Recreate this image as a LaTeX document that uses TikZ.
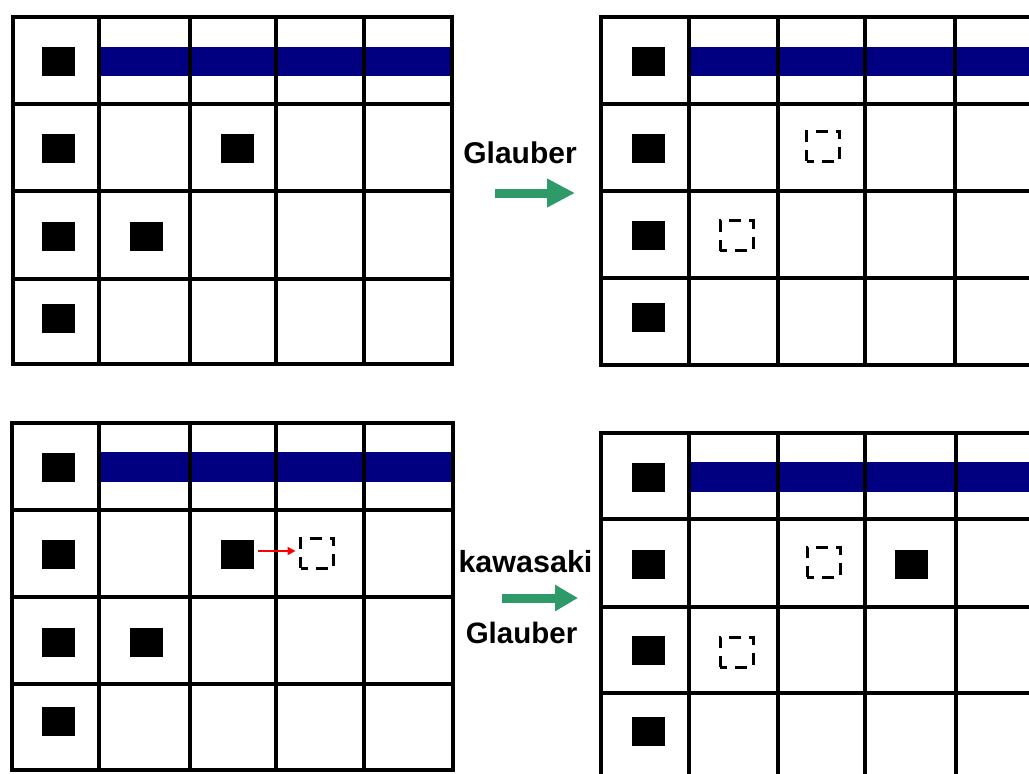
\documentclass[tikz,border=0pt]{standalone}
\usepackage{fontspec}
\setmainfont{Liberation Sans}
\usetikzlibrary{arrows.meta}
\definecolor{barblue}{RGB}{0,0,128}
\definecolor{arrgreen}{RGB}{46,154,106}
\begin{document}
\begin{tikzpicture}[x=1pt,y=-1pt,
  gridline/.style={line width=3.8pt,black},
  blk/.style={fill=black,inner sep=0pt,minimum width=33pt,minimum height=29pt},
  hole/.style={draw=black,line width=3pt,dash pattern=on 12pt off 8pt,dash phase=5pt,inner sep=0pt,minimum width=33pt,minimum height=30pt},
  bar/.style={fill=barblue},
  lbl/.style={font=\bfseries\fontsize{30}{30}\selectfont,inner sep=0pt,anchor=base},
  flow/.style={draw=arrgreen,line width=9pt,-{Triangle[length=28pt,width=27pt]}},
  move/.style={draw=red,line width=1.5pt,-{Triangle[length=8pt,width=8pt]}}]
\useasboundingbox (0,0) rectangle (1029,774);
\clip (0,0) rectangle (1029,774);

% ---------- top-left lattice ----------
\fill[bar] (99,47) rectangle (452,76);
\draw[gridline] (13,17) rectangle (452,364);
\foreach \x in {99,190,276,364} \draw[gridline] (\x,17) -- (\x,364);
\foreach \y in {104,191,279} \draw[gridline] (13,\y) -- (452,\y);
\node[blk] (a00) at (58.5,61.5) {};
\node[blk] (a10) at (58.5,148) {};
\node[blk] (a20) at (58.5,236) {};
\node[blk] (a30) at (58.5,318) {};
\node[blk] (a21) at (146,236) {};
\node[blk] (a12) at (237,148) {};

% ---------- top-right lattice ----------
\fill[bar] (689,47) rectangle (1035,76);
\draw[gridline] (1040,17) -- (601,17) -- (601,365) -- (1040,365);
\foreach \x in {689,778,865,955} \draw[gridline] (\x,17) -- (\x,365);
\foreach \y in {104,191,278} \draw[gridline] (601,\y) -- (1040,\y);
\node[blk] (b00) at (648,61.5) {};
\node[blk] (b10) at (648,148) {};
\node[blk] (b20) at (648,235) {};
\node[blk] (b30) at (648,317) {};
\node[hole] (b12) at (823,146) {};
\node[hole] (b21) at (736.5,235.5) {};

% ---------- bottom-left lattice ----------
\fill[bar] (99,452) rectangle (453,482);
\draw[gridline] (12,423) rectangle (453,770);
\foreach \x in {99,190,276,364} \draw[gridline] (\x,423) -- (\x,770);
\foreach \y in {510,597,684} \draw[gridline] (12,\y) -- (453,\y);
\node[blk] (c00) at (58.5,467) {};
\node[blk] (c10) at (58.5,554.5) {};
\node[blk] (c20) at (58.5,642) {};
\node[blk] (c30) at (58.5,721.5) {};
\node[blk] (c21) at (146,642) {};
\node[blk] (c12) at (237,554.5) {};
\node[hole] (c13) at (317,553) {};
\draw[move] ([yshift=3.5pt,xshift=4.5pt]c12.east) -- ([yshift=2pt,xshift=-3.5pt]c13.west);

% ---------- bottom-right lattice ----------
\fill[bar] (689,462) rectangle (1035,492);
\draw[gridline] (1040,433) -- (601,433) -- (601,780);
\foreach \x in {689,778,865,956} \draw[gridline] (\x,433) -- (\x,780);
\foreach \y in {519,607,693} \draw[gridline] (601,\y) -- (1040,\y);
\node[blk] (d00) at (648,477) {};
\node[blk] (d10) at (648,564) {};
\node[blk] (d20) at (648,650.5) {};
\node[blk] (d30) at (648,731.5) {};
\node[blk] (d13) at (911,564) {};
\node[hole] (d12) at (823.5,562) {};
\node[hole] (d21) at (736.5,652) {};

% ---------- labels and arrows ----------
\node[lbl] (t1) at (520,163) {Glauber};
\coordinate (g1s) at (495,193);
\coordinate (g1e) at (575,193);
\draw[flow] (g1s) -- (g1e);

\node[lbl,font=\bfseries\fontsize{30.5}{30.5}\selectfont] (t2) at (525.5,572) {kawasaki};
\coordinate (g2s) at (502,598);
\coordinate (g2e) at (578,598);
\draw[flow,-{Triangle[length=23pt,width=25pt]}] (g2s) -- (g2e);
\node[lbl,font=\bfseries\fontsize{29.5}{29.5}\selectfont] (t3) at (521.5,643) {Glauber};
\end{tikzpicture}
\end{document}
